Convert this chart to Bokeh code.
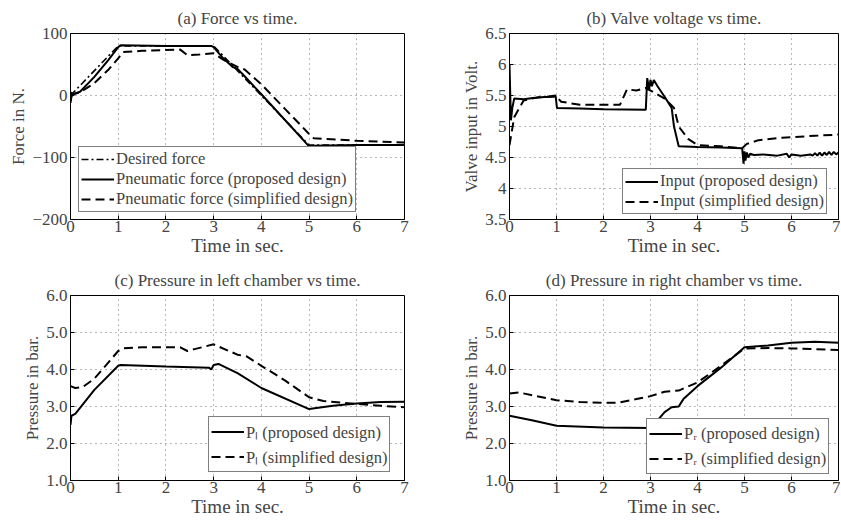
from bokeh.plotting import figure
from bokeh.layouts import column, row
from bokeh.models import (FixedTicker, CustomJSTickFormatter, Legend, LegendItem, Range1d)
from bokeh.embed import file_html
from bokeh.resources import INLINE

FONT = "Liberation Serif"

# ---------------- data ----------------
x_ticks = [0, 1, 2, 3, 4, 5, 6, 7]

# (a) Force vs time
a_yticks = [-200, -100, 0, 100]
a_des_t = [0, 1, 3, 5, 7]
a_des_f = [0, 80, 80, -80, -80]
a_pro_t = [0, 0.02, 0.05, 0.2, 0.5, 0.8, 1.0, 1.05, 2.0, 2.95, 3.0, 3.2, 3.4, 3.5, 3.6, 4.0, 4.5, 5.0, 5.1, 6.0, 7.0]
a_pro_f = [-12, -2, 2, 6, 30, 58, 78, 81, 80, 80, 78, 60, 46, 43, 35, 2, -40, -82, -81, -80, -80]
a_sim_t = [0, 0.05, 0.2, 0.5, 0.8, 1.0, 1.1, 1.5, 2.3, 2.45, 2.7, 3.0, 3.2, 3.5, 3.65, 4.0, 4.5, 5.0, 5.1, 6.0, 7.0]
a_sim_f = [5, 2, 5, 20, 42, 60, 70, 72, 74, 65, 66, 68, 58, 46, 42, 18, -22, -62, -69, -73, -76]

# (b) Valve voltage vs time
b_yticks = [3.5, 4, 4.5, 5, 5.5, 6, 6.5]
b_pro_t = [0, 0.03, 0.06, 0.1, 0.3, 0.5, 0.8, 0.98, 1.01, 1.5, 2.0, 2.9, 2.93, 2.97, 3.0, 3.03, 3.07, 3.15, 3.3, 3.45,
           3.5, 3.6, 4.0, 4.5, 4.95, 4.98, 5.0, 5.02, 5.05, 5.08, 5.12, 5.2, 5.4, 5.7, 5.9, 5.95, 6.0, 6.2, 6.4,
           6.45, 6.5, 6.55, 6.6, 6.65, 6.7, 6.75, 6.8, 6.85, 6.9, 6.95, 7.0]
b_pro_v = [6.0, 5.1, 5.3, 5.45, 5.44, 5.46, 5.48, 5.5, 5.3, 5.29, 5.28, 5.27, 5.78, 5.6, 5.75, 5.65, 5.75, 5.65, 5.48, 5.3,
           5.0, 4.68, 4.67, 4.66, 4.65, 4.4, 4.6, 4.45, 4.58, 4.5, 4.56, 4.54, 4.55, 4.53, 4.56, 4.5, 4.55, 4.53, 4.55,
           4.53, 4.57, 4.53, 4.58, 4.53, 4.58, 4.54, 4.59, 4.54, 4.59, 4.55, 4.58]
b_sim_t = [0, 0.1, 0.3, 0.6, 1.0, 1.1, 1.5, 2.35, 2.5, 2.7, 2.9, 3.0, 3.3, 3.5, 3.6, 3.8, 4.0, 4.5, 4.95, 5.05, 5.3, 5.8, 6.5, 7.0]
b_sim_v = [4.7, 5.15, 5.42, 5.47, 5.48, 5.4, 5.35, 5.35, 5.6, 5.58, 5.62, 5.58, 5.45, 5.3, 5.0, 4.8, 4.7, 4.68, 4.65, 4.72, 4.78, 4.82, 4.85, 4.87]

# (c) Pressure in left chamber vs time
p_yticks = [1, 2, 3, 4, 5, 6]
c_pro_t = [0, 0.02, 0.1, 0.5, 1.0, 1.05, 2.0, 2.9, 2.95, 3.0, 3.1, 3.5, 4.0, 5.0, 5.5, 6.0, 6.5, 7.0]
c_pro_p = [2.5, 2.75, 2.8, 3.45, 4.1, 4.12, 4.08, 4.05, 4.0, 4.12, 4.15, 3.9, 3.5, 2.93, 3.02, 3.08, 3.12, 3.13]
c_sim_t = [0, 0.1, 0.25, 0.5, 0.8, 1.0, 1.1, 1.5, 2.3, 2.45, 2.6, 3.0, 3.5, 3.7, 4.0, 4.5, 5.0, 5.3, 6.0, 6.5, 7.0]
c_sim_p = [3.55, 3.5, 3.52, 3.75, 4.2, 4.5, 4.57, 4.6, 4.6, 4.5, 4.55, 4.68, 4.4, 4.35, 4.1, 3.7, 3.25, 3.15, 3.07, 3.02, 2.98]

# (d) Pressure in right chamber vs time
d_pro_t = [0, 0.5, 1.0, 2.0, 3.0, 3.1, 3.3, 3.45, 3.6, 3.7, 4.0, 4.5, 5.0, 5.5, 6.0, 6.5, 7.0]
d_pro_p = [2.75, 2.62, 2.48, 2.43, 2.42, 2.55, 2.85, 2.98, 3.0, 3.2, 3.55, 4.05, 4.6, 4.65, 4.72, 4.75, 4.72]
d_sim_t = [0, 0.2, 0.5, 1.0, 1.5, 2.0, 2.3, 2.7, 3.0, 3.3, 3.6, 4.0, 4.5, 5.0, 5.5, 6.0, 6.5, 7.0]
d_sim_p = [3.35, 3.38, 3.3, 3.17, 3.12, 3.1, 3.1, 3.2, 3.28, 3.4, 3.43, 3.65, 4.1, 4.57, 4.58, 4.57, 4.55, 4.53]

# ---------------- helpers ----------------
fmt_minus = CustomJSTickFormatter(code="return tick < 0 ? '\u2212' + Math.abs(tick) : String(tick);")
fmt_plain = CustomJSTickFormatter(code="return String(tick);")
fmt_one = CustomJSTickFormatter(code="return tick.toFixed(1);")


def make_fig(title, ylab, yr, yticks, fmt, w, h, left, right, top, bottom):
    p = figure(width=w, height=h, x_range=Range1d(0, 7), y_range=Range1d(*yr),
               output_backend="svg", toolbar_location=None,
               min_border_left=left, min_border_right=right, min_border_top=top, min_border_bottom=bottom)
    p.title.text = title
    p.title.align = "center"
    p.title.text_font = FONT
    p.title.text_font_size = "17px"
    p.title.text_font_style = "normal"
    p.title.standoff = 12
    p.outline_line_color = "black"
    p.outline_line_width = 1
    p.background_fill_color = "white"
    p.border_fill_color = "white"

    p.xaxis.ticker = FixedTicker(ticks=x_ticks)
    p.yaxis.ticker = FixedTicker(ticks=yticks)
    p.yaxis.formatter = fmt
    p.xaxis.axis_label = "Time in sec."
    p.yaxis.axis_label = ylab
    for ax in (p.xaxis, p.yaxis):
        ax.axis_label_text_font = FONT
        ax.axis_label_text_font_style = "normal"
        ax.major_label_text_font = FONT
        ax.major_label_text_font_size = "17px"
        ax.major_tick_in = 4
        ax.major_tick_out = 0
        ax.minor_tick_line_color = None
        ax.axis_line_color = "black"
        ax.major_tick_line_color = "black"
        ax.major_label_standoff = 3
        ax.axis_label_standoff = 1
    p.xaxis.axis_label_text_font_size = "19px"
    p.yaxis.axis_label_text_font_size = "17px"
    p.xaxis.major_label_standoff = 1
    p.xaxis.axis_label_standoff = 0

    p.grid.grid_line_color = "black"
    p.grid.grid_line_alpha = 0.55
    p.grid.grid_line_dash = "1 4"
    p.grid.grid_line_width = 1
    p.xgrid.ticker = FixedTicker(ticks=x_ticks)
    p.ygrid.ticker = FixedTicker(ticks=yticks)
    return p


def add_legend(p, items, loc, lh):
    leg = Legend(items=[LegendItem(label=l, renderers=[r]) for l, r in items], location=loc)
    leg.label_text_font = FONT
    leg.label_text_font_size = "16.5px"
    leg.border_line_color = "black"
    leg.border_line_width = 1
    leg.background_fill_alpha = 1.0
    leg.glyph_width = 33
    leg.glyph_height = lh
    leg.label_height = lh
    leg.spacing = 0
    leg.padding = 2
    leg.margin = 0
    leg.label_standoff = 2
    p.add_layout(leg)


LW = 2
DASH = "9 5"

# (a)
pa = make_fig("(a) Force vs time.", "Force in N.", (-200, 100), a_yticks, fmt_minus,
              450, 258, 70, 46, 33, 38)
r1 = pa.line(a_des_t, a_des_f, line_color="black", line_width=1.6, line_dash="7 3 2 3")
r2 = pa.line(a_pro_t, a_pro_f, line_color="black", line_width=LW)
r3 = pa.line(a_sim_t, a_sim_f, line_color="black", line_width=LW, line_dash=DASH)
add_legend(pa, [("Desired force", r1), ("Pneumatic force (proposed design)", r2),
                ("Pneumatic force (simplified design)", r3)], (8, 7), 18)

# (b)
pb = make_fig("(b) Valve voltage vs time.", "Valve input in Volt.", (3.5, 6.5), b_yticks, fmt_plain,
              390, 258, 59, 2, 33, 38)
s1 = pb.line(b_pro_t, b_pro_v, line_color="black", line_width=LW)
s2 = pb.line(b_sim_t, b_sim_v, line_color="black", line_width=LW, line_dash=DASH)
add_legend(pb, [("Input (proposed design)", s1), ("Input (simplified design)", s2)], (113, 5), 19)

# (c)
pc = make_fig("(c) Pressure in left chamber vs time.", "Pressure in bar.", (1, 6), p_yticks, fmt_one,
              450, 261, 70, 46, 37, 38)
u1 = pc.line(c_pro_t, c_pro_p, line_color="black", line_width=LW)
u2 = pc.line(c_sim_t, c_sim_p, line_color="black", line_width=LW, line_dash=DASH)
add_legend(pc, [("P\u2097 (proposed design)", u1), ("P\u2097 (simplified design)", u2)], (138, 8), 25)

# (d)
pd_ = make_fig("(d) Pressure in right chamber vs time.", "Pressure in bar.", (1, 6), p_yticks, fmt_one,
               390, 261, 59, 2, 37, 38)
v1 = pd_.line(d_pro_t, d_pro_p, line_color="black", line_width=LW)
v2 = pd_.line(d_sim_t, d_sim_p, line_color="black", line_width=LW, line_dash=DASH)
add_legend(pd_, [("P\u1d63 (proposed design)", v1), ("P\u1d63 (simplified design)", v2)], (137, 6), 25)

layout = column(row(pa, pb), row(pc, pd_))
open("out.html", "w").write(file_html(layout, INLINE))
